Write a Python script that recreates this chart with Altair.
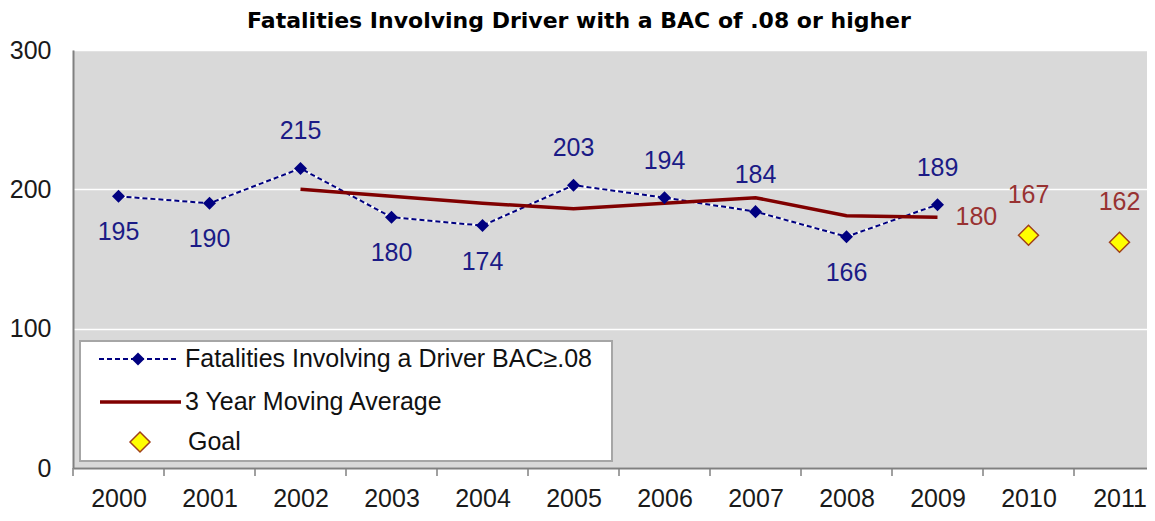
import altair as alt
import pandas as pd

# ---------------- data ----------------
YEARS = list(range(2000, 2012))
FAT_YEARS = [2000, 2001, 2002, 2003, 2004, 2005, 2006, 2007, 2008, 2009]
FATALITIES = [195, 190, 215, 180, 174, 203, 194, 184, 166, 189]
MA_YEARS = [2002, 2003, 2004, 2005, 2006, 2007, 2008, 2009]
MOVING_AVG = [200, 195, 190, 186, 190, 194, 181, 180]
GOAL_YEARS = [2010, 2011]
GOALS = [167, 162]
LABEL_ABOVE_YEARS = [2002, 2005, 2006, 2007, 2009]
LEGEND_LABELS = ["Fatalities Involving a Driver BAC\u2265.08", "3 Year Moving Average", "Goal"]
TITLE = "Fatalities Involving Driver with a BAC of .08 or higher"

fat = pd.DataFrame({"year": FAT_YEARS, "value": FATALITIES})
fat["above"] = fat["year"].isin(LABEL_ABOVE_YEARS)
ma = pd.DataFrame({"year": MA_YEARS, "value": MOVING_AVG})
ma_last = ma.tail(1)
goal = pd.DataFrame({"year": GOAL_YEARS, "value": GOALS})
bounds = pd.DataFrame({"year": YEARS})

# ---------------- styling ----------------
W, H = 1074, 418
BAND = 91
NAVY = "#000080"
NAVY_TXT = "#1b1b86"
DARKRED = "#800000"
RED_TXT = "#983232"
FONT = "Liberation Sans"

xscale = alt.Scale(domain=[1999.5, 1999.5 + W / BAND], nice=False, zero=False)
yscale = alt.Scale(domain=[0, 300], nice=False, zero=True)

xaxis = alt.Axis(values=YEARS, format="d", title=None, ticks=False, grid=False,
                 domainColor="#808080", domainWidth=2, labelFont=FONT,
                 labelFontSize=25, labelColor="#1a1a1a", labelPadding=18,
                 labelBaseline="top", labelFlush=False, labelOverlap=False)
yaxis = alt.Axis(values=[0, 100, 200, 300], title=None, ticks=False, grid=True,
                 gridColor="white", gridWidth=1.5, domainColor="#808080",
                 domainWidth=2, labelFont=FONT, labelFontSize=25,
                 labelColor="#1a1a1a", labelPadding=22)

X = alt.X("year:Q", scale=xscale, axis=xaxis)
Y = alt.Y("value:Q", scale=yscale, axis=yaxis)

# boundary ticks below the x axis (category separators)
btick = alt.Chart(bounds).transform_calculate(year="datum.year - 0.5").mark_rule(
    color="#808080", strokeWidth=1.5
).encode(x=X, y=alt.value(H), y2=alt.value(H + 8))

fat_white = alt.Chart(fat).mark_line(color="white", strokeWidth=2).encode(x=X, y=Y)
fat_dash = alt.Chart(fat).mark_line(color=NAVY, strokeWidth=2, strokeDash=[5, 3]).encode(x=X, y=Y)
fat_pts = alt.Chart(fat).mark_point(shape="diamond", filled=True, size=170,
                                    color=NAVY, opacity=1).encode(x=X, y=Y)
fat_lab_up = alt.Chart(fat).transform_filter("datum.above").mark_text(
    dy=-37, fontSize=25, font=FONT, color=NAVY_TXT).encode(x=X, y=Y, text="value:Q")
fat_lab_dn = alt.Chart(fat).transform_filter("!datum.above").mark_text(
    dy=36, fontSize=25, font=FONT, color=NAVY_TXT).encode(x=X, y=Y, text="value:Q")

ma_line = alt.Chart(ma).mark_line(color=DARKRED, strokeWidth=3.5).encode(x=X, y=Y)
ma_lab = alt.Chart(ma_last).mark_text(align="left", dx=18, fontSize=25, font=FONT,
                                      color=RED_TXT).encode(x=X, y=Y, text="value:Q")

goal_pts = alt.Chart(goal).mark_point(shape="diamond", filled=True, size=400,
                                      fill="#FFFF00", stroke="#A0401A",
                                      strokeWidth=1.5, opacity=1).encode(x=X, y=Y)
goal_lab = alt.Chart(goal).mark_text(dy=-40, fontSize=25, font=FONT,
                                     color=RED_TXT).encode(x=X, y=Y, text="value:Q")

# ---------------- title and legend (manual) ----------------
one = pd.DataFrame({"k": [0]})
title = alt.Chart(one).mark_text(align="center", baseline="alphabetic", fontSize=22,
                                 font="DejaVu Sans", fontWeight="bold", color="#000000",
                                 text=TITLE).encode(x=alt.value(506), y=alt.value(-22))
leg_box = alt.Chart(one).mark_rect(fill="white", stroke="#A6A6A6", strokeWidth=2).encode(
    x=alt.value(7), x2=alt.value(539), y=alt.value(291), y2=alt.value(411))
leg_dash = alt.Chart(one).mark_rule(color=NAVY, strokeWidth=2, strokeDash=[5, 3]).encode(
    x=alt.value(26), x2=alt.value(104), y=alt.value(309))
leg_dia = alt.Chart(one).mark_point(shape="diamond", filled=True, size=170, color=NAVY,
                                    opacity=1).encode(x=alt.value(65), y=alt.value(309))
leg_ma = alt.Chart(one).mark_rule(color=DARKRED, strokeWidth=3.5).encode(
    x=alt.value(27), x2=alt.value(108), y=alt.value(352))
leg_goal = alt.Chart(one).mark_point(shape="diamond", filled=True, size=400, fill="#FFFF00",
                                     stroke="#A0401A", strokeWidth=1.5, opacity=1).encode(
    x=alt.value(67), y=alt.value(392))
leg_t1 = alt.Chart(one).mark_text(align="left", baseline="middle", fontSize=25, font=FONT,
                                  color="#111111", text=LEGEND_LABELS[0]).encode(
    x=alt.value(112), y=alt.value(309))
leg_t2 = alt.Chart(one).mark_text(align="left", baseline="middle", fontSize=25, font=FONT,
                                  color="#111111", text=LEGEND_LABELS[1]).encode(
    x=alt.value(112), y=alt.value(352))
leg_t3 = alt.Chart(one).mark_text(align="left", baseline="middle", fontSize=25, font=FONT,
                                  color="#111111", text=LEGEND_LABELS[2]).encode(
    x=alt.value(115), y=alt.value(392))

chart = alt.layer(
    fat_white, fat_dash, ma_line, fat_pts, fat_lab_up, fat_lab_dn, ma_lab,
    goal_pts, goal_lab, btick,
    leg_box, leg_dash, leg_dia, leg_ma, leg_goal, leg_t1, leg_t2, leg_t3, title,
).properties(
    width=W, height=H,
    padding={"left": 65, "top": 42, "right": 0, "bottom": 45},
    autosize=alt.AutoSizeParams(type="none"),
    background="white",
).configure_view(fill="#D9D9D9", stroke=None)

chart.save("out.html", embed_options={"renderer": "svg", "actions": False})
